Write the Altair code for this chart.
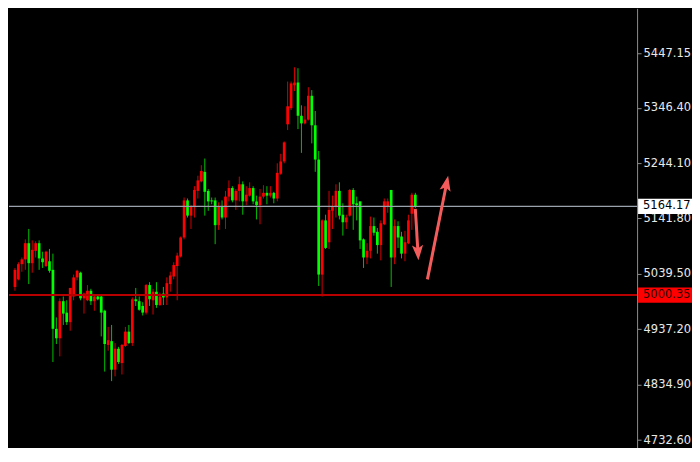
import math
import altair as alt
import pandas as pd

# ---------------- data ----------------
opens = [5015.4, 5029.4, 5057.5, 5066.3, 5096.2, 5059.3, 5082.1, 5096.2, 5068.1, 5054.0,
         5062.8, 5047.0, 4938.1, 4920.6, 4989.1, 4968.0, 4950.4, 4997.8, 5033.0, 5041.7,
         4994.3, 4990.8, 5008.4, 4989.1, 4997.8, 4997.8, 4971.5, 4908.3, 4915.3, 4862.6,
         4901.3, 4874.9, 4906.5, 4932.9, 4911.8, 4992.6, 4989.1, 4980.3, 4968.0, 5018.9,
         4990.8, 5006.6, 4982.0, 5003.1, 4996.0, 5020.7, 5034.7, 5054.0, 5071.6, 5106.7,
         5175.2, 5147.1, 5164.6, 5192.8, 5210.3, 5227.9, 5192.8, 5175.2, 5175.2, 5129.5,
         5164.6, 5143.6, 5182.2, 5198.0, 5175.2, 5192.8, 5205.0, 5173.4, 5184.0, 5198.0,
         5173.4, 5166.4, 5182.2, 5189.2, 5184.0, 5189.2, 5178.7, 5224.4, 5247.2, 5315.7,
         5345.5, 5387.7, 5392.9, 5331.5, 5317.4, 5324.4, 5368.4, 5313.9, 5250.7, 5038.2,
         5138.3, 5097.9, 5155.9, 5162.9, 5192.8, 5148.8, 5134.8, 5147.1, 5194.5, 5169.9,
         5173.4, 5103.2, 5069.8, 5082.1, 5127.8, 5117.2, 5092.7, 5131.2, 5162.9, 5194.5,
         5069.8, 5127.8, 5108.5, 5076.9, 5096.2, 5150.6, 5185.7]

highs = [5050.5, 5061.0, 5069.8, 5103.2, 5122.5, 5101.4, 5099.7, 5101.4, 5080.4, 5082.1,
         5085.6, 5076.9, 4959.2, 4994.3, 4997.8, 4990.8, 5013.6, 5038.2, 5047.0, 5043.5,
         5004.9, 5018.9, 5011.9, 4999.6, 4999.6, 5001.3, 4973.3, 4941.6, 4945.2, 4911.8,
         4904.8, 4910.0, 4941.6, 4945.2, 4996.0, 5013.6, 4997.8, 4987.3, 5020.7, 5024.2,
         5011.9, 5024.2, 5004.9, 5015.4, 5033.0, 5043.5, 5061.0, 5078.6, 5108.5, 5180.5,
         5178.7, 5166.4, 5201.5, 5220.8, 5240.2, 5252.5, 5196.3, 5180.5, 5180.5, 5171.7,
         5175.2, 5192.8, 5212.1, 5201.5, 5196.3, 5219.1, 5210.3, 5201.5, 5208.6, 5201.5,
         5184.0, 5196.3, 5203.3, 5201.5, 5201.5, 5191.0, 5243.7, 5261.2, 5284.1, 5394.7,
         5394.7, 5421.0, 5419.3, 5350.8, 5349.0, 5384.2, 5378.9, 5340.3, 5266.5, 5140.1,
         5148.8, 5192.8, 5184.0, 5205.0, 5208.6, 5169.9, 5148.8, 5196.3, 5198.0, 5182.2,
         5173.4, 5104.9, 5096.2, 5145.3, 5143.6, 5124.3, 5138.3, 5178.7, 5178.7, 5194.5,
         5140.1, 5136.6, 5117.2, 5119.0, 5148.8, 5189.2, 5189.2]

lows = [5008.4, 5027.7, 5043.5, 5047.0, 5020.7, 5041.7, 5069.8, 5047.0, 5050.5, 5052.3,
        5041.7, 4876.7, 4910.0, 4887.2, 4945.2, 4945.2, 4934.6, 4990.8, 5027.7, 4990.8,
        4966.2, 4989.1, 4982.0, 4971.5, 4990.8, 4924.1, 4859.1, 4897.7, 4841.5, 4850.3,
        4873.2, 4853.8, 4904.8, 4910.0, 4906.5, 4980.3, 4971.5, 4962.7, 4964.5, 4980.3,
        4964.5, 4976.8, 4980.3, 4982.0, 4982.0, 5006.6, 5029.4, 4990.8, 5069.8, 5103.2,
        5143.6, 5122.5, 5143.6, 5178.7, 5208.6, 5147.1, 5155.9, 5168.1, 5094.4, 5120.8,
        5140.1, 5122.5, 5173.4, 5171.7, 5157.6, 5173.4, 5148.8, 5166.4, 5182.2, 5168.1,
        5140.1, 5131.2, 5178.7, 5168.1, 5180.5, 5169.9, 5173.4, 5222.6, 5243.7, 5305.1,
        5342.0, 5377.1, 5306.9, 5263.0, 5315.7, 5322.7, 5280.5, 5227.9, 5017.2, 4997.8,
        5085.6, 5085.6, 5122.5, 5143.6, 5140.1, 5110.2, 5122.5, 5145.3, 5120.8, 5138.3,
        5085.6, 5050.5, 5057.5, 5068.1, 5110.2, 5076.9, 5064.5, 5129.5, 5152.4, 5015.4,
        5057.5, 5087.4, 5068.1, 5062.8, 5094.4, 5120.8, 5161.1]

closes = [5047.0, 5057.5, 5066.3, 5096.2, 5059.3, 5083.9, 5096.2, 5068.1, 5061.0, 5080.4,
          5045.2, 4938.1, 4920.6, 4989.1, 4966.2, 4950.4, 5013.6, 5033.0, 5045.2, 4994.3,
          5003.1, 5008.4, 4989.1, 4997.8, 4992.6, 4968.0, 4910.0, 4917.1, 4862.6, 4901.3,
          4876.7, 4908.3, 4932.9, 4911.8, 4992.6, 4989.1, 4973.3, 4968.0, 5018.9, 4992.6,
          5006.6, 4982.0, 4997.8, 4996.0, 5022.4, 5036.5, 5055.8, 5073.3, 5106.7, 5175.2,
          5147.1, 5164.6, 5194.5, 5212.1, 5229.6, 5191.0, 5173.4, 5173.4, 5129.5, 5164.6,
          5143.6, 5182.2, 5198.0, 5175.2, 5192.8, 5205.0, 5173.4, 5185.7, 5198.0, 5173.4,
          5166.4, 5182.2, 5189.2, 5184.0, 5189.2, 5178.7, 5226.1, 5247.2, 5282.3, 5349.0,
          5391.2, 5392.9, 5331.5, 5317.4, 5324.4, 5368.4, 5313.9, 5250.7, 5038.2, 5138.3,
          5087.4, 5157.6, 5162.9, 5192.8, 5147.1, 5134.8, 5143.6, 5194.5, 5168.1, 5166.4,
          5101.4, 5069.8, 5082.1, 5127.8, 5115.5, 5092.7, 5133.0, 5173.4, 5173.4, 5069.8,
          5127.8, 5106.7, 5076.9, 5097.9, 5138.3, 5185.7, 5164.2]

tick_values = [5447.15, 5346.40, 5244.10, 5141.80, 5039.50, 4937.20, 4834.90, 4732.60]

bid_price = 5164.17
level_price = 5000.35
marker_prices = [bid_price, level_price]
marker_labels = ["5164.17", "5000.35"]

# hand-drawn arrows: start (bar index, price) -> tip (bar index, price)
arrow_x_start = [117.0, 120.5]
arrow_y_start = [5159.4, 5029.4]
arrow_x_tip = [117.9, 126.5]
arrow_y_tip = [5064.5, 5220.8]

# ---------------- layout / style ----------------
W, H = 629, 440
X0, X1 = 0.72, 179.8
Y0, Y1 = 4718.6, 5529.9
BG = "#000000"
UP_BODY, DOWN_BODY = "#ff0000", "#00ff00"
UP_WICK, DOWN_WICK = "#d00000", "#00c000"
ARROW = "#f45c5c"
FONT = "DejaVu Sans"

xs = alt.Scale(domain=[X0, X1], nice=False, zero=False)
ys = alt.Scale(domain=[Y0, Y1], nice=False, zero=False)

yaxis = alt.Axis(orient="right", values=tick_values, format=".2f", title=None, grid=False,
                 domain=True, ticks=True, labels=True,
                 domainColor="#8c8c8c", domainWidth=1, tickColor="#8c8c8c", tickSize=4,
                 labelColor="#e8e8e8", labelFont=FONT, labelFontSize=11.5, labelPadding=2,
                 labelBaseline="middle", labelOverlap=False, labelFlush=False)


def Y(field):
    return alt.Y(field, scale=ys, axis=yaxis, title=None)


def X(field):
    return alt.X(field, scale=xs, axis=None)


df = pd.DataFrame({"i": list(range(1, len(opens) + 1)), "o": opens, "h": highs,
                   "l": lows, "c": closes})

up = "datum.c >= datum.o"
base = alt.Chart(df)
wicks = base.mark_rule(strokeWidth=1).encode(
    x=X("i:Q"), y=Y("l:Q"), y2="h:Q",
    color=alt.condition(up, alt.value(UP_WICK), alt.value(DOWN_WICK)),
)
bodies = base.mark_bar(size=2.7).encode(
    x=X("i:Q"), y=Y("o:Q"), y2="c:Q",
    color=alt.condition(up, alt.value(UP_BODY), alt.value(DOWN_BODY)),
)

bid_line = alt.Chart(pd.DataFrame({"p": [bid_price]})).mark_rule(
    color="#9aa3ad", strokeWidth=1.3).encode(y=Y("p:Q"), x=alt.value(0), x2=alt.value(W))
level_line = alt.Chart(pd.DataFrame({"p": [level_price]})).mark_rule(
    color="#b80000", strokeWidth=2).encode(y=Y("p:Q"), x=alt.value(0), x2=alt.value(W))


# arrows (geometry of the heads derived from the scales)
def sx(v):
    return (v - X0) / (X1 - X0) * W


def sy(v):
    return H - (v - Y0) / (Y1 - Y0) * H


def ix(px):
    return X0 + px / W * (X1 - X0)


def iy(py):
    return Y0 + (H - py) / H * (Y1 - Y0)


rows = []
for xa, ya, xb, yb in zip(arrow_x_start, arrow_y_start, arrow_x_tip, arrow_y_tip):
    dx, dy = sx(xb) - sx(xa), sy(yb) - sy(ya)
    L = math.hypot(dx, dy)
    ux, uy = dx / L, dy / L
    ang = math.degrees(math.atan2(dx, -dy)) % 360
    rows.append({"xa": xa, "ya": ya, "xe": ix(sx(xb) - 10 * ux), "ye": iy(sy(yb) - 10 * uy),
                 "xb": xb, "yb": yb, "ang": ang})
adf = pd.DataFrame(rows)

arrow_lines = alt.Chart(adf).mark_rule(color=ARROW, strokeWidth=3, strokeCap="butt").encode(
    x=X("xa:Q"), y=Y("ya:Q"), x2="xe:Q", y2="ye:Q")
head_path = "M0,0L0.7,1.9L0,1.5L-0.7,1.9Z"
arrow_heads = alt.Chart(adf).mark_point(shape=head_path, filled=True, size=256, opacity=1,
                                        color=ARROW, strokeWidth=0).encode(
    x=X("xb:Q"), y=Y("yb:Q"), angle=alt.Angle("ang:Q", scale=None))

# price marker boxes on the axis
mdf = pd.DataFrame({"p": marker_prices, "label": marker_labels,
                    "fill": ["#ffffff", "#ff0000"], "txt": ["#000000", "#2a0000"]})
box_path = "M-1,-0.28L1,-0.28L1,0.28L-1,0.28Z"
boxes = alt.Chart(mdf).mark_point(shape=box_path, filled=True, size=2916, opacity=1,
                                  strokeWidth=0).encode(
    x=alt.value(W + 28), y=Y("p:Q"), color=alt.Color("fill:N", scale=None))
box_text = alt.Chart(mdf).mark_text(align="left", baseline="middle", font=FONT,
                                    fontSize=11.5).encode(
    x=alt.value(W + 6), y=Y("p:Q"), text="label:N",
    color=alt.Color("txt:N", scale=None))

chart = alt.layer(wicks, bodies, bid_line, level_line, arrow_lines, arrow_heads,
                  boxes, box_text).properties(
    width=W, height=H, background=BG, padding=0
).configure_view(stroke=None)

chart.save("out.html", embed_options={"renderer": "svg", "actions": False})
